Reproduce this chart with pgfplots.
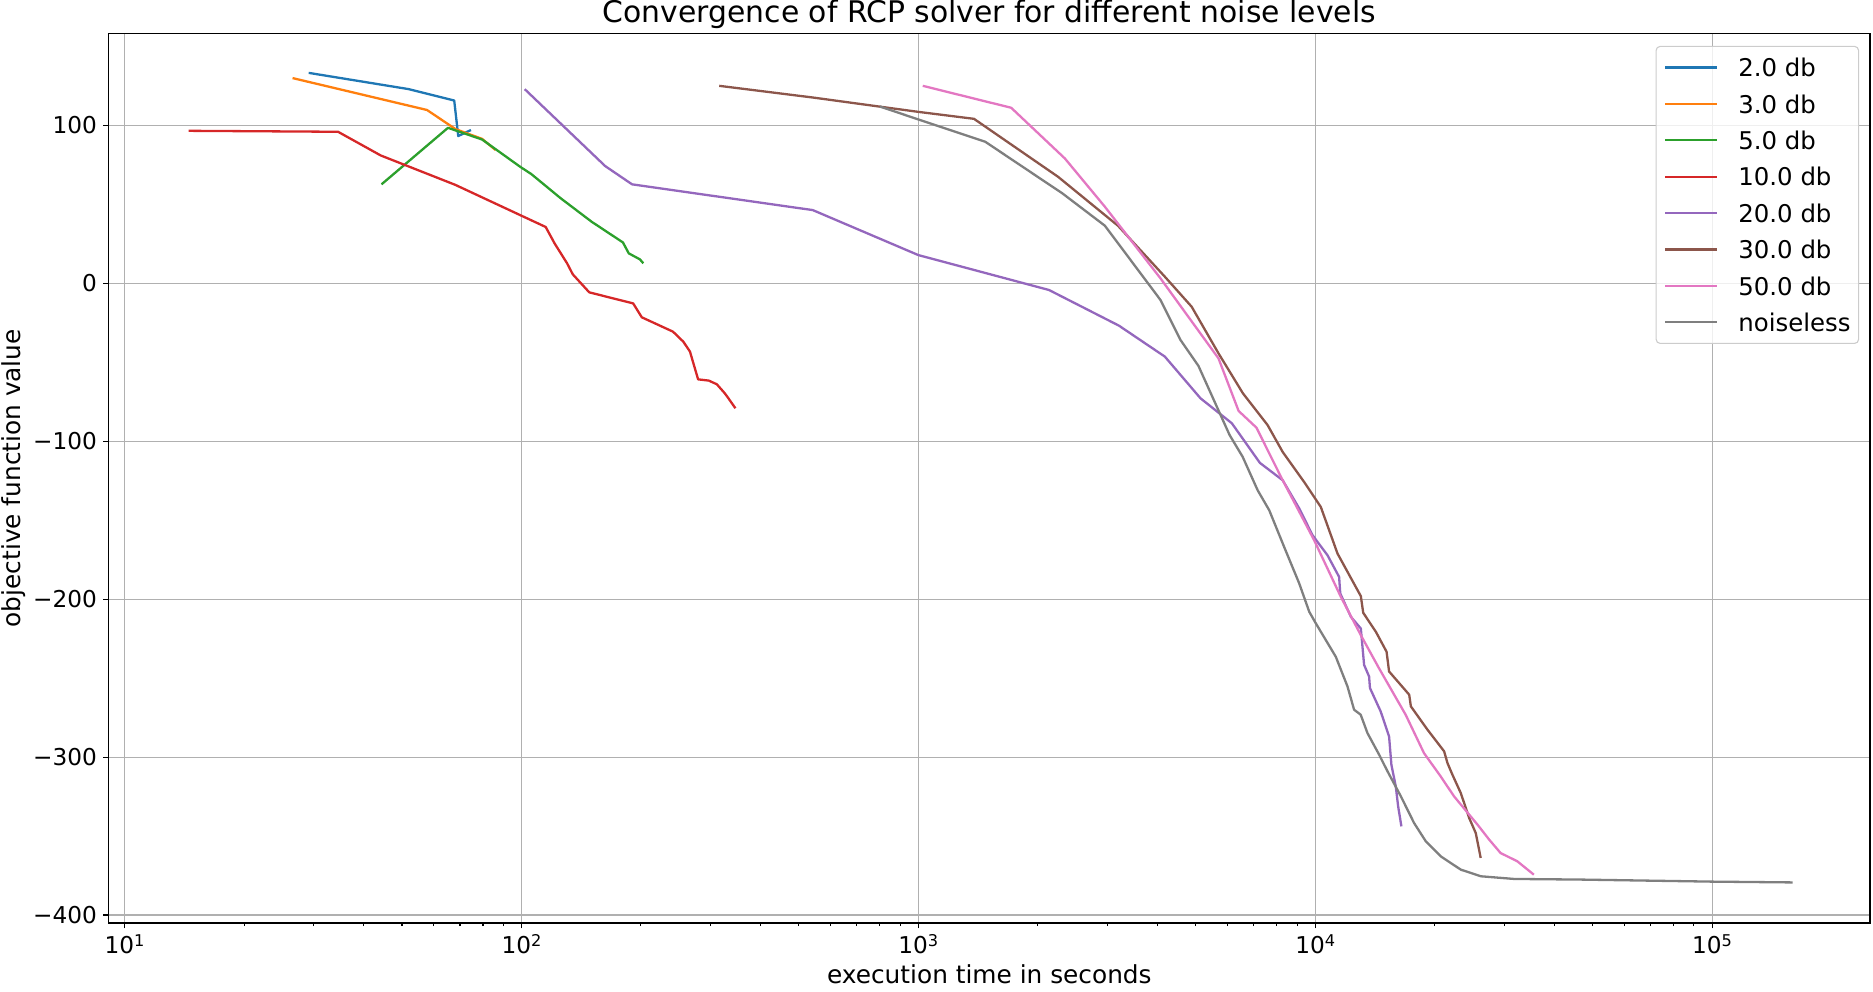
\documentclass[border=0pt]{standalone}
\usepackage{fontspec}
\setmainfont{DejaVu Sans}
\usepackage{pgfplots}
\pgfplotsset{compat=1.18}
\definecolor{c0}{HTML}{1F77B4}
\definecolor{c1}{HTML}{FF7F0E}
\definecolor{c2}{HTML}{2CA02C}
\definecolor{c3}{HTML}{D62728}
\definecolor{c4}{HTML}{9467BD}
\definecolor{c5}{HTML}{8C564B}
\definecolor{c6}{HTML}{E377C2}
\definecolor{c7}{HTML}{7F7F7F}
\definecolor{gridc}{HTML}{B0B0B0}
\definecolor{legc}{HTML}{CCCCCC}
\newcommand{\supx}[1]{\raisebox{3.5pt}{\fontsize{8.1}{9}\selectfont #1}}
\begin{document}
\begin{tikzpicture}
\begin{axis}[name=ax, xmode=log, scale only axis, width=880.65pt, height=444.8pt,
  xmin=9.12, xmax=2.5e5, ymin=-405.1, ymax=158.3,
  axis line style={line width=0.6pt},
  grid=major, major grid style={color=gridc, line width=0.55pt},
  minor grid style={draw=none},
  tick align=outside, xtick pos=bottom, ytick pos=left,
  major tick length=2.65pt, minor tick length=1.5pt,
  every tick/.style={black, line width=0.55pt},
  xtick={10,100,1000,10000,100000},
  xticklabels={10\supx{1},10\supx{2},10\supx{3},10\supx{4},10\supx{5}},
  ytick={-400,-300,-200,-100,0,100},
  yticklabels={−400,−300,−200,−100,0,100},
  tick label style={font=\fontsize{11.6}{13}\selectfont},
  xticklabel style={anchor=base, yshift=-12.7pt},
  yticklabel style={anchor=east, inner sep=0pt, xshift=-3.05pt},
  every axis title shift=0pt,
  title={Convergence of RCP solver for different noise levels},
  title style={at={(axis description cs:0.5,1.01203)}, anchor=base, inner sep=0pt, font=\fontsize{14.9}{17}\selectfont},
  xlabel={execution time in seconds},
  xlabel style={at={(axis description cs:0.5,-0.0685)}, anchor=base, inner sep=0pt, font=\fontsize{12.4}{14}\selectfont},
  ylabel={objective function value},
  ylabel style={at={(axis description cs:-0.0503,0.5)}, anchor=base, inner sep=0pt, font=\fontsize{12.4}{14}\selectfont},
  legend style={at={(0.9938,0.986)}, anchor=north east, draw=legc, line width=0.55pt, rounded corners=2pt,
    fill=white, fill opacity=0.8, text opacity=1, font=\fontsize{12.2}{14}\selectfont,
    inner xsep=4pt, inner ysep=6pt, row sep=9.1pt,
    nodes={inner sep=0pt, text height=9.1pt, text depth=0pt},
    /tikz/every odd column/.append style={column sep=10pt}},
  legend cell align=left,
  legend image code/.code={\draw[#1] (0pt,0pt) -- (26pt,0pt);},
  every axis plot/.append style={line width=1.15pt, line join=round},
]
\addplot[c0] coordinates {(29.1,133.3) (52.0,123) (67.7,115.8) (69.3,93.3) (74.6,97.1)};
\addlegendentry{2.0 db}
\addplot[c1] coordinates {(26.5,130) (57.8,109.8) (68.2,97.7) (79.6,91.5) (86,84.5)};
\addlegendentry{3.0 db}
\addplot[c2] coordinates {(44.4,62.7) (65.3,98.5) (79.6,91.1) (99.3,73.8) (105.9,69.2) (125.4,54) (150.3,39) (180.2,25.9) (186.4,19) (198.8,15.2) (202.8,12.7)};
\addlegendentry{5.0 db}
\addplot[c3] coordinates {(14.5,96.6) (34.5,96) (44.2,81) (68.1,62.4) (99.3,43.2) (115.1,35.7) (121.2,25.3) (130.3,12.7) (134.7,5.7) (148.2,-5.7) (191.2,-12.7) (201,-21.5) (240.9,-30.6) (255.7,-36.9) (265.8,-43.2) (278.7,-60.8) (296.6,-61.6) (310.6,-63.9) (325.3,-69.6) (331,-72.2) (346,-79.1)};
\addlegendentry{10.0 db}
\addplot[c4] coordinates {(101.9,123) (162.5,74.3) (190,62.7) (542,46.4) (1000,17.9) (2134,-4.2) (3203,-26.8) (4180,-46.4) (5140,-72.8) (6165,-88.6) (7256,-113.7) (8281,-124.7) (9116,-142.6) (9846,-159.5) (10740,-172.2) (11487,-185.9) (11565,-196.4) (12300,-211.2) (13030,-218.6) (13280,-241.6) (13670,-249) (13740,-256.3) (14620,-271.1) (15350,-286.9) (15560,-304.9) (15960,-318.6) (16180,-331.2) (16490,-343.9)};
\addlegendentry{20.0 db}
\addplot[c5] coordinates {(315,125.1) (542,117.7) (1000,108.6) (1381,104.2) (2249,67.5) (3184,36.5) (4180,4.2) (4883,-14.8) (5705,-44.3) (6573,-69.6) (7585,-89.7) (8281,-106.8) (9372,-125.7) (10330,-141.6) (11380,-171.1) (13030,-198.1) (13210,-208.6) (14220,-220.7) (15130,-233.3) (15350,-245.8) (17250,-260.5) (17420,-267.9) (19190,-282.7) (21130,-296.4) (21540,-303.8) (22170,-311.2) (23270,-322.8) (24430,-338.6) (25380,-348.1) (26120,-363.9)};
\addlegendentry{30.0 db}
\addplot[c6] coordinates {(1026,125.1) (1714,111.2) (2340,79.1) (2952,48.5) (4074,3.2) (5705,-47.5) (6412,-80.8) (7112,-91.4) (8199,-122.6) (9940,-162.7) (11600,-198.5) (13030,-222.8) (14490,-243.9) (16900,-273.2) (18800,-297.5) (20700,-312.2) (22380,-324.9) (25640,-342.8) (27440,-352.3) (29320,-360.8) (32300,-366) (35560,-374.5)};
\addlegendentry{50.0 db}
\addplot[c7] coordinates {(800,112) (1000,103.8) (1474,89.7) (2306,57) (2952,36.5) (4074,-10.5) (4578,-35.9) (5080,-52.3) (6084,-96) (6566,-109.9) (7161,-131) (7660,-143.7) (8350,-166.9) (9116,-190.1) (9660,-208) (10040,-215.4) (11270,-236.5) (12060,-255.3) (12530,-270) (13020,-273.2) (13540,-284.8) (14490,-298.5) (15210,-309) (16440,-324.9) (17750,-341.8) (19000,-353.4) (20720,-362.9) (23270,-371.3) (26120,-375.5) (31700,-377.2) (46700,-377.6) (100000,-378.9) (159600,-379.4)};
\addlegendentry{noiseless}
\end{axis}
\pgfresetboundingbox
\path[use as bounding box] ([xshift=-54.35pt, yshift=-34pt]ax.south west) rectangle ([xshift=1.5pt, yshift=16.7pt]ax.north east);
\end{tikzpicture}
\end{document}
